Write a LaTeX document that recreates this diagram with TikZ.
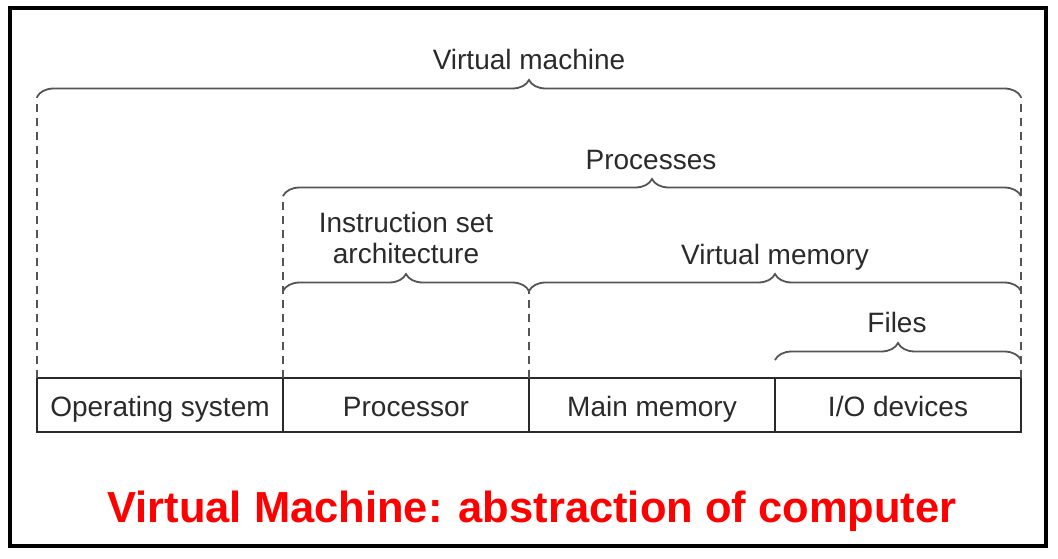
\documentclass[tikz,border=0pt]{standalone}
\usepackage{fontspec}
\setmainfont{Liberation Sans}
\usetikzlibrary{positioning,decorations.pathreplacing}
\definecolor{ink}{HTML}{2a2a2a}
\definecolor{rule}{HTML}{555555}
\tikzset{
  unit/.style={draw=ink, line width=2.8pt, minimum width=246pt, minimum height=54pt,
    inner sep=0pt, outer sep=0pt, text=ink, text height=24pt, text depth=2pt,
    font=\fontsize{28}{31}\selectfont},
  lbl/.style={text=ink, font=\fontsize{28}{31}\selectfont, align=center, inner sep=0pt},
  brc/.style={decorate, decoration={brace, amplitude=17pt}, draw=rule, line width=1.8pt},
  guide/.style={draw=rule, line width=1.6pt, dash pattern=on 8pt off 6pt},
}
\begin{document}
\begin{tikzpicture}[x=1pt,y=1pt]
  \useasboundingbox (0,0) rectangle (1058,558);
  \draw[line width=3.5pt] (10,12) rectangle (1046,550);

  % bottom row
  \node[unit] (os) at (160,153) {Operating system};
  \node[unit, right=0pt of os] (cpu) {Processor};
  \node[unit, right=0pt of cpu] (mem) {Main memory};
  \node[unit, right=0pt of mem] (io) {I/O devices};

  % brace ends
  \coordinate (vmL) at (os.north west |- 0,461);
  \coordinate (vmR) at (io.north east |- 0,461);
  \coordinate (prL) at (cpu.north west |- 0,362);
  \coordinate (prR) at (io.north east |- 0,362);
  \coordinate (isaL) at (cpu.north west |- 0,267);
  \coordinate (isaR) at (mem.north west |- 0,267);
  \coordinate (vmemR) at (io.north east |- 0,267);
  \coordinate (fiL) at (io.north west |- 0,198);
  \coordinate (fiR) at (io.north east |- 0,198);

  % dashed guides
  \draw[guide] (os.north west) -- (vmL);
  \draw[guide] (io.north east) -- (vmR);
  \draw[guide] (cpu.north west) -- (prL);
  \draw[guide] (mem.north west) -- (isaR);

  % braces
  \draw[brc] (vmL) -- (vmR);
  \draw[brc] (prL) -- (prR);
  \draw[brc] (isaL) -- (isaR);
  \draw[brc] (isaR) -- (vmemR);
  \draw[brc] (fiL) -- (fiR);

  % labels
  \node[lbl, anchor=base] (vmtxt) at (529,488) {Virtual machine};
  \node[lbl, anchor=base] (prtxt) at (651,388) {Processes};
  \node[lbl] (isatxt) at (406,320) {Instruction set\\architecture};
  \node[lbl, anchor=base] (vmemtxt) at (775,294) {Virtual memory};
  \node[lbl, anchor=base] (fitxt) at (897,226) {Files};

  \node[text=red, inner sep=0pt, anchor=base, font=\fontsize{43.5}{50}\selectfont\bfseries]
    (title) at (532,36) {Virtual Machine: abstraction of computer};
\end{tikzpicture}
\end{document}
